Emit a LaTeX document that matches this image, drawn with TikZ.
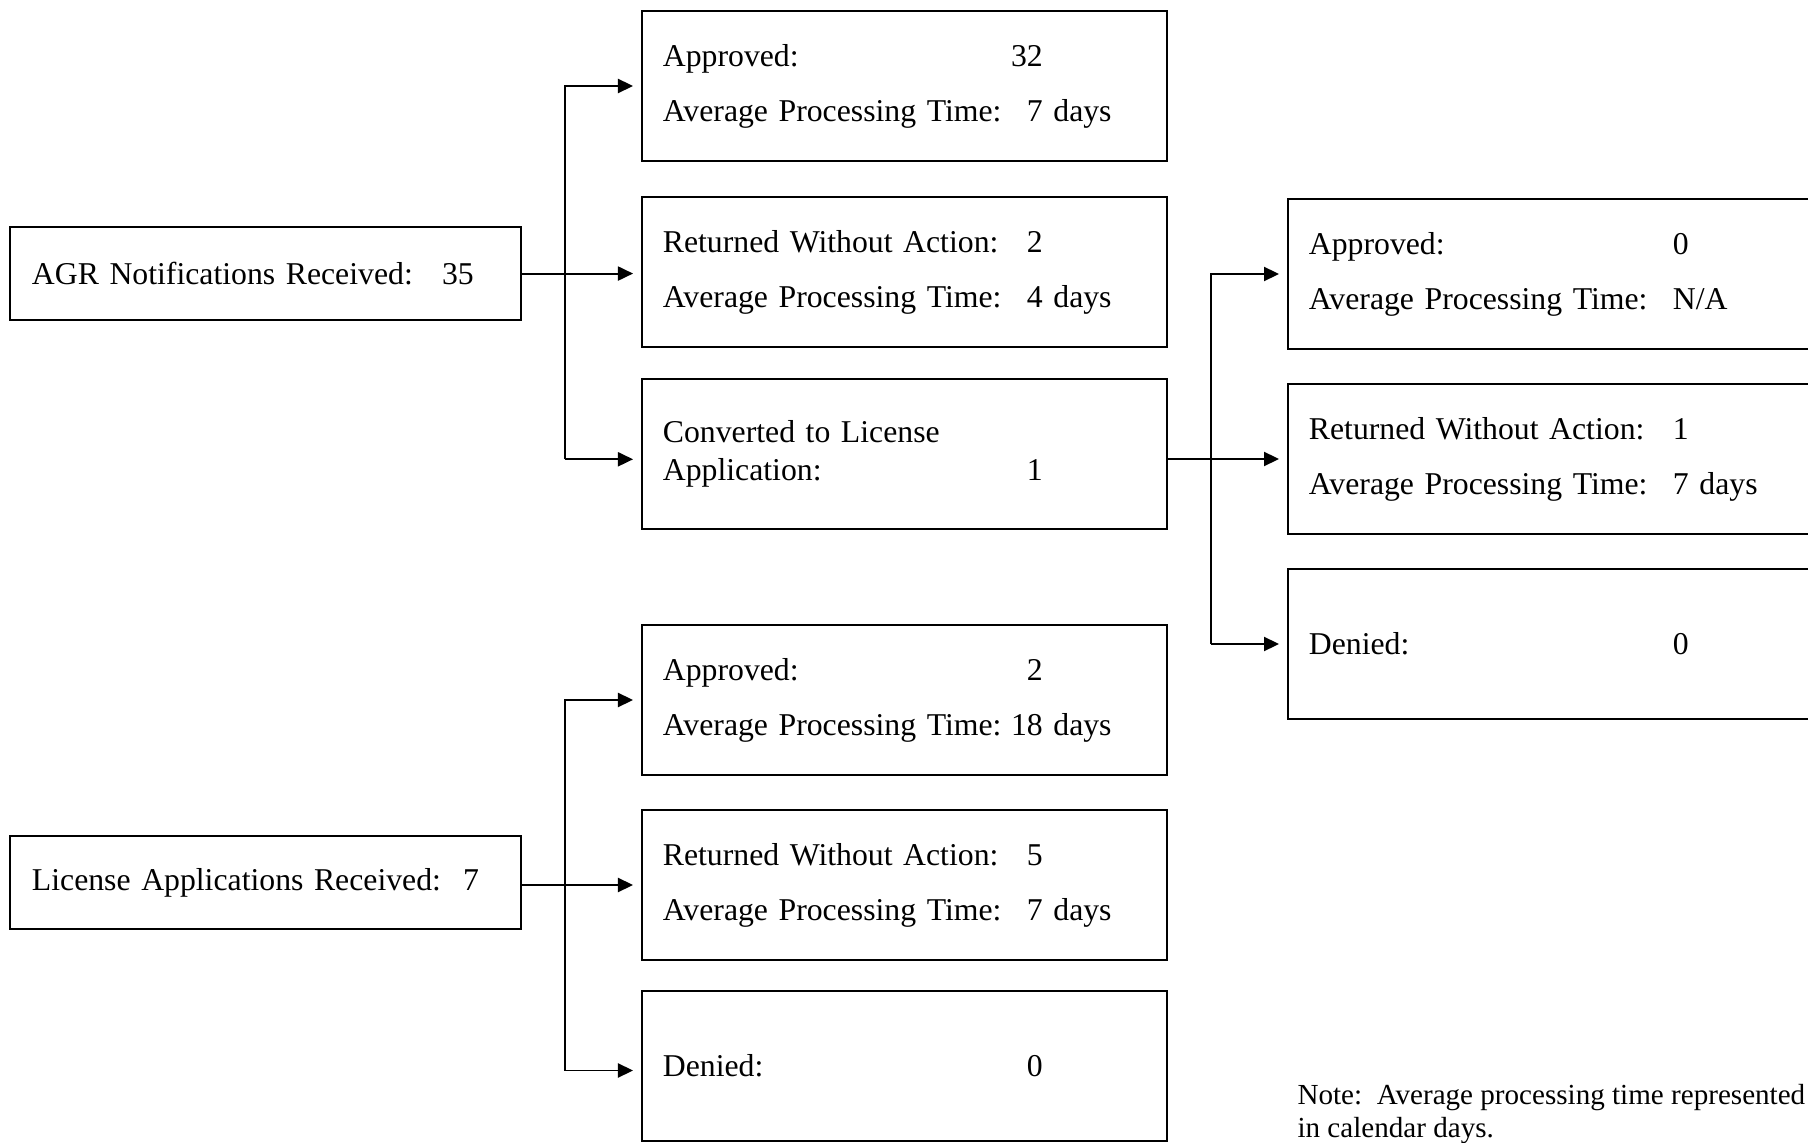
\documentclass[tikz,border=0pt]{standalone}
\usepackage{fontspec}
\setmainfont{Liberation Serif}
\usetikzlibrary{arrows.meta,calc}
\tikzset{
    infobox/.style={draw, line width=0.75pt, anchor=north west, align=left,
        text width=182.7pt, inner xsep=7.9pt, inner ysep=0pt, minimum height=56.7pt,
        font=\fontsize{12pt}{14.5pt}\selectfont},
    srcbox/.style={infobox, text width=176.6pt, inner xsep=8.3pt, minimum height=35.2pt},
    flow/.style={->, line width=0.75pt, shorten >=3pt}
}
\newcommand{\statline}[2]{\makebox[137.6pt][l]{#1}#2}

\begin{document}
\begin{tikzpicture}[x=0.378pt, y=-0.378pt, >={Triangle[length=5.7pt,width=5.3pt]}]
\useasboundingbox (0,0) rectangle (1808,1142);
\node[srcbox] (agr) at (9,226) {\makebox[155pt][l]{AGR Notifications Received:}35};
\node[infobox] (apr) at (641,10) {\statline{Approved:}{\llap{3}2}\\[6.3pt]\statline{Average Processing Time:}{7 days}};
\node[infobox] (rwa) at (641,196) {\statline{Returned Without Action:}{2}\\[6.3pt]\statline{Average Processing Time:}{4 days}};
\node[infobox] (conv) at (641,378) {Converted to License\\\statline{Application:}{1}};
\node[infobox] (capr) at (1287,198) {\statline{Approved:}{0}\\[6.3pt]\statline{Average Processing Time:}{N/A}};
\node[infobox] (crwa) at (1287,383) {\statline{Returned Without Action:}{1}\\[6.3pt]\statline{Average Processing Time:}{7 days}};
\node[infobox] (cden) at (1287,568) {\statline{Denied:}{0}};
\node[srcbox] (lic) at (9,835) {\makebox[163pt][l]{License Applications Received:}7};
\node[infobox] (lapr) at (641,624) {\statline{Approved:}{2}\\[6.3pt]\statline{Average Processing Time:}{\llap{1}8 days}};
\node[infobox] (lrwa) at (641,809) {\statline{Returned Without Action:}{5}\\[6.3pt]\statline{Average Processing Time:}{7 days}};
\node[infobox] (lden) at (641,990) {\statline{Denied:}{0}};
\node[anchor=north west, inner sep=0pt, align=left, font=\fontsize{11pt}{12.5pt}\selectfont] (note) at (1297,1084) {Note:\ \ Average processing time represented\\in calendar days.};
\coordinate (tl) at (565,0);
\coordinate (tr) at (1211,0);
\coordinate (cin) at ([yshift=-2pt]conv.west);
\coordinate (din) at ([yshift=-1.7pt]lden.west);
\draw[flow] (agr.east) -- (agr.east -| rwa.west);
\draw[flow] (tl |- cin) |- (apr.west);
\draw[flow] (tl |- cin) -- (cin);
\draw[flow] (conv.east |- crwa.west) -- (crwa.west);
\draw[flow] (tr |- cden.west) |- (capr.west);
\draw[flow] (tr |- cden.west) -- (cden.west);
\draw[flow] (lic.east |- lrwa.west) -- (lrwa.west);
\draw[flow] (tl |- din) |- (lapr.west);
\draw[flow] (tl |- din) -- (din);
\end{tikzpicture}
\end{document}
